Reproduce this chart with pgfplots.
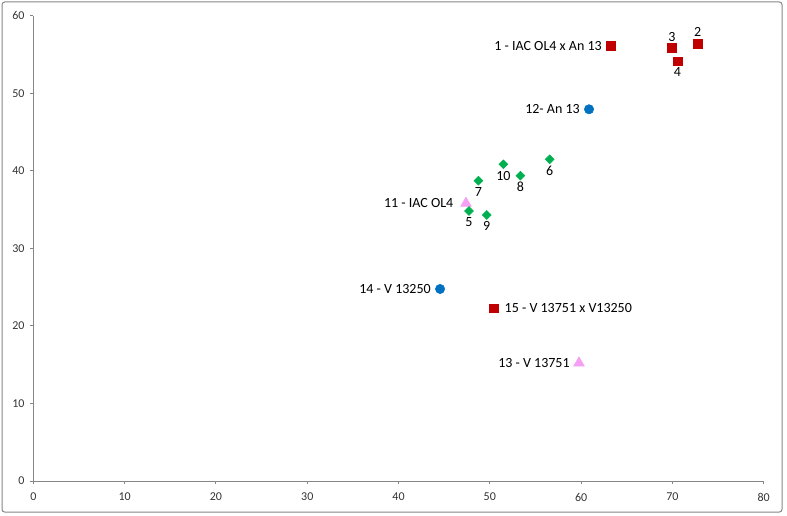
\documentclass[border=0pt]{standalone}
\usepackage{pgfplots}
\pgfplotsset{compat=1.18}
\usepackage{fontspec}
\setmainfont{Carlito}
\definecolor{axgray}{RGB}{134,134,134}
\definecolor{myred}{RGB}{192,0,0}
\definecolor{myblue}{RGB}{0,112,192}
\definecolor{mygreen}{RGB}{0,176,80}
\definecolor{mypink}{RGB}{245,160,245}
\pgfplotsset{
  lblE/.style={nodes near coords, point meta=explicit symbolic, every node near coord/.style={anchor=east, font=\fontsize{10.5}{12}\selectfont, inner sep=0pt, outer xsep=7pt, text=black}},
  lblW/.style={nodes near coords, point meta=explicit symbolic, every node near coord/.style={anchor=west, font=\fontsize{10.5}{12}\selectfont, inner sep=0pt, outer xsep=8.5pt, text=black}},
  lblN/.style={nodes near coords, point meta=explicit symbolic, every node near coord/.style={anchor=north, font=\fontsize{10.5}{12}\selectfont, inner sep=0pt, outer ysep=5pt, text=black}},
  lblS/.style={nodes near coords, point meta=explicit symbolic, every node near coord/.style={anchor=south, font=\fontsize{10.5}{12}\selectfont, inner sep=0pt, outer ysep=5pt, text=black}},
  redm/.style={only marks, mark=square*, mark size=3.3pt, color=myred},
  bluem/.style={only marks, mark=*, mark size=3.5pt, color=myblue},
  pinkm/.style={only marks, mark=triangle*, mark size=4.6pt, color=mypink},
  greenm/.style={only marks, mark=square*, mark size=2.35pt, mark options={rotate=45}, color=mygreen},
}
\begin{document}
\begin{tikzpicture}
\useasboundingbox (0,0) rectangle (590.25pt,386.25pt);
\draw[axgray, line width=0.75pt, rounded corners=2pt] (1.5pt,2.25pt) rectangle (586.5pt,384.75pt);
\begin{axis}[
  at={(25.05pt,25.5pt)}, anchor=south west, scale only axis,
  width=547.7pt, height=349pt,
  xmin=0, xmax=80, ymin=0, ymax=60,
  xtick={0,10,...,80}, ytick={0,10,...,60},
  axis x line=bottom, axis y line=left,
  axis line style={-, axgray, line width=0.75pt},
  tick align=outside, major tick length=2.6pt,
  tick style={axgray, line width=0.75pt},
  ticklabel style={font=\fontsize{9}{10}\selectfont, text=black!80},
  xticklabel style={yshift=-3pt},
  yticklabel style={xshift=-0.5pt},
  /pgf/number format/assume math mode=true,
  clip=false,
]
% red squares
\addplot[redm, lblE] table[meta=lbl] {
x y lbl
63.28 56.09 {1 - IAC OL4 x An 13}
};
\addplot[redm, lblS] table[meta=lbl] {
x y lbl
72.77 56.39 2
69.96 55.83 3
};
\addplot[redm, lblN] table[meta=lbl] {
x y lbl
70.55 54.12 4
};
\addplot[redm, lblW] table[meta=lbl] {
x y lbl
50.39 22.27 {15 - V 13751 x V13250}
};
% blue circles
\addplot[bluem, lblE] table[meta=lbl] {
x y lbl
60.87 47.93 {12- An 13}
44.55 24.76 {14 - V 13250}
};
% pink triangles
\addplot[pinkm, lblE, every node near coord/.append style={outer xsep=9.5pt}] table[meta=lbl] {
x y lbl
47.39 35.81 {11 - IAC OL4}
};
\addplot[pinkm, lblE] table[meta=lbl] {
x y lbl
59.77 15.22 {13 - V 13751}
};
% green diamonds
\addplot[greenm, lblN] table[meta=lbl] {
x y lbl
47.72 34.82 5
56.56 41.48 6
48.75 38.72 7
53.35 39.37 8
49.66 34.30 9
51.49 40.84 10
};
\end{axis}
\end{tikzpicture}
\end{document}
